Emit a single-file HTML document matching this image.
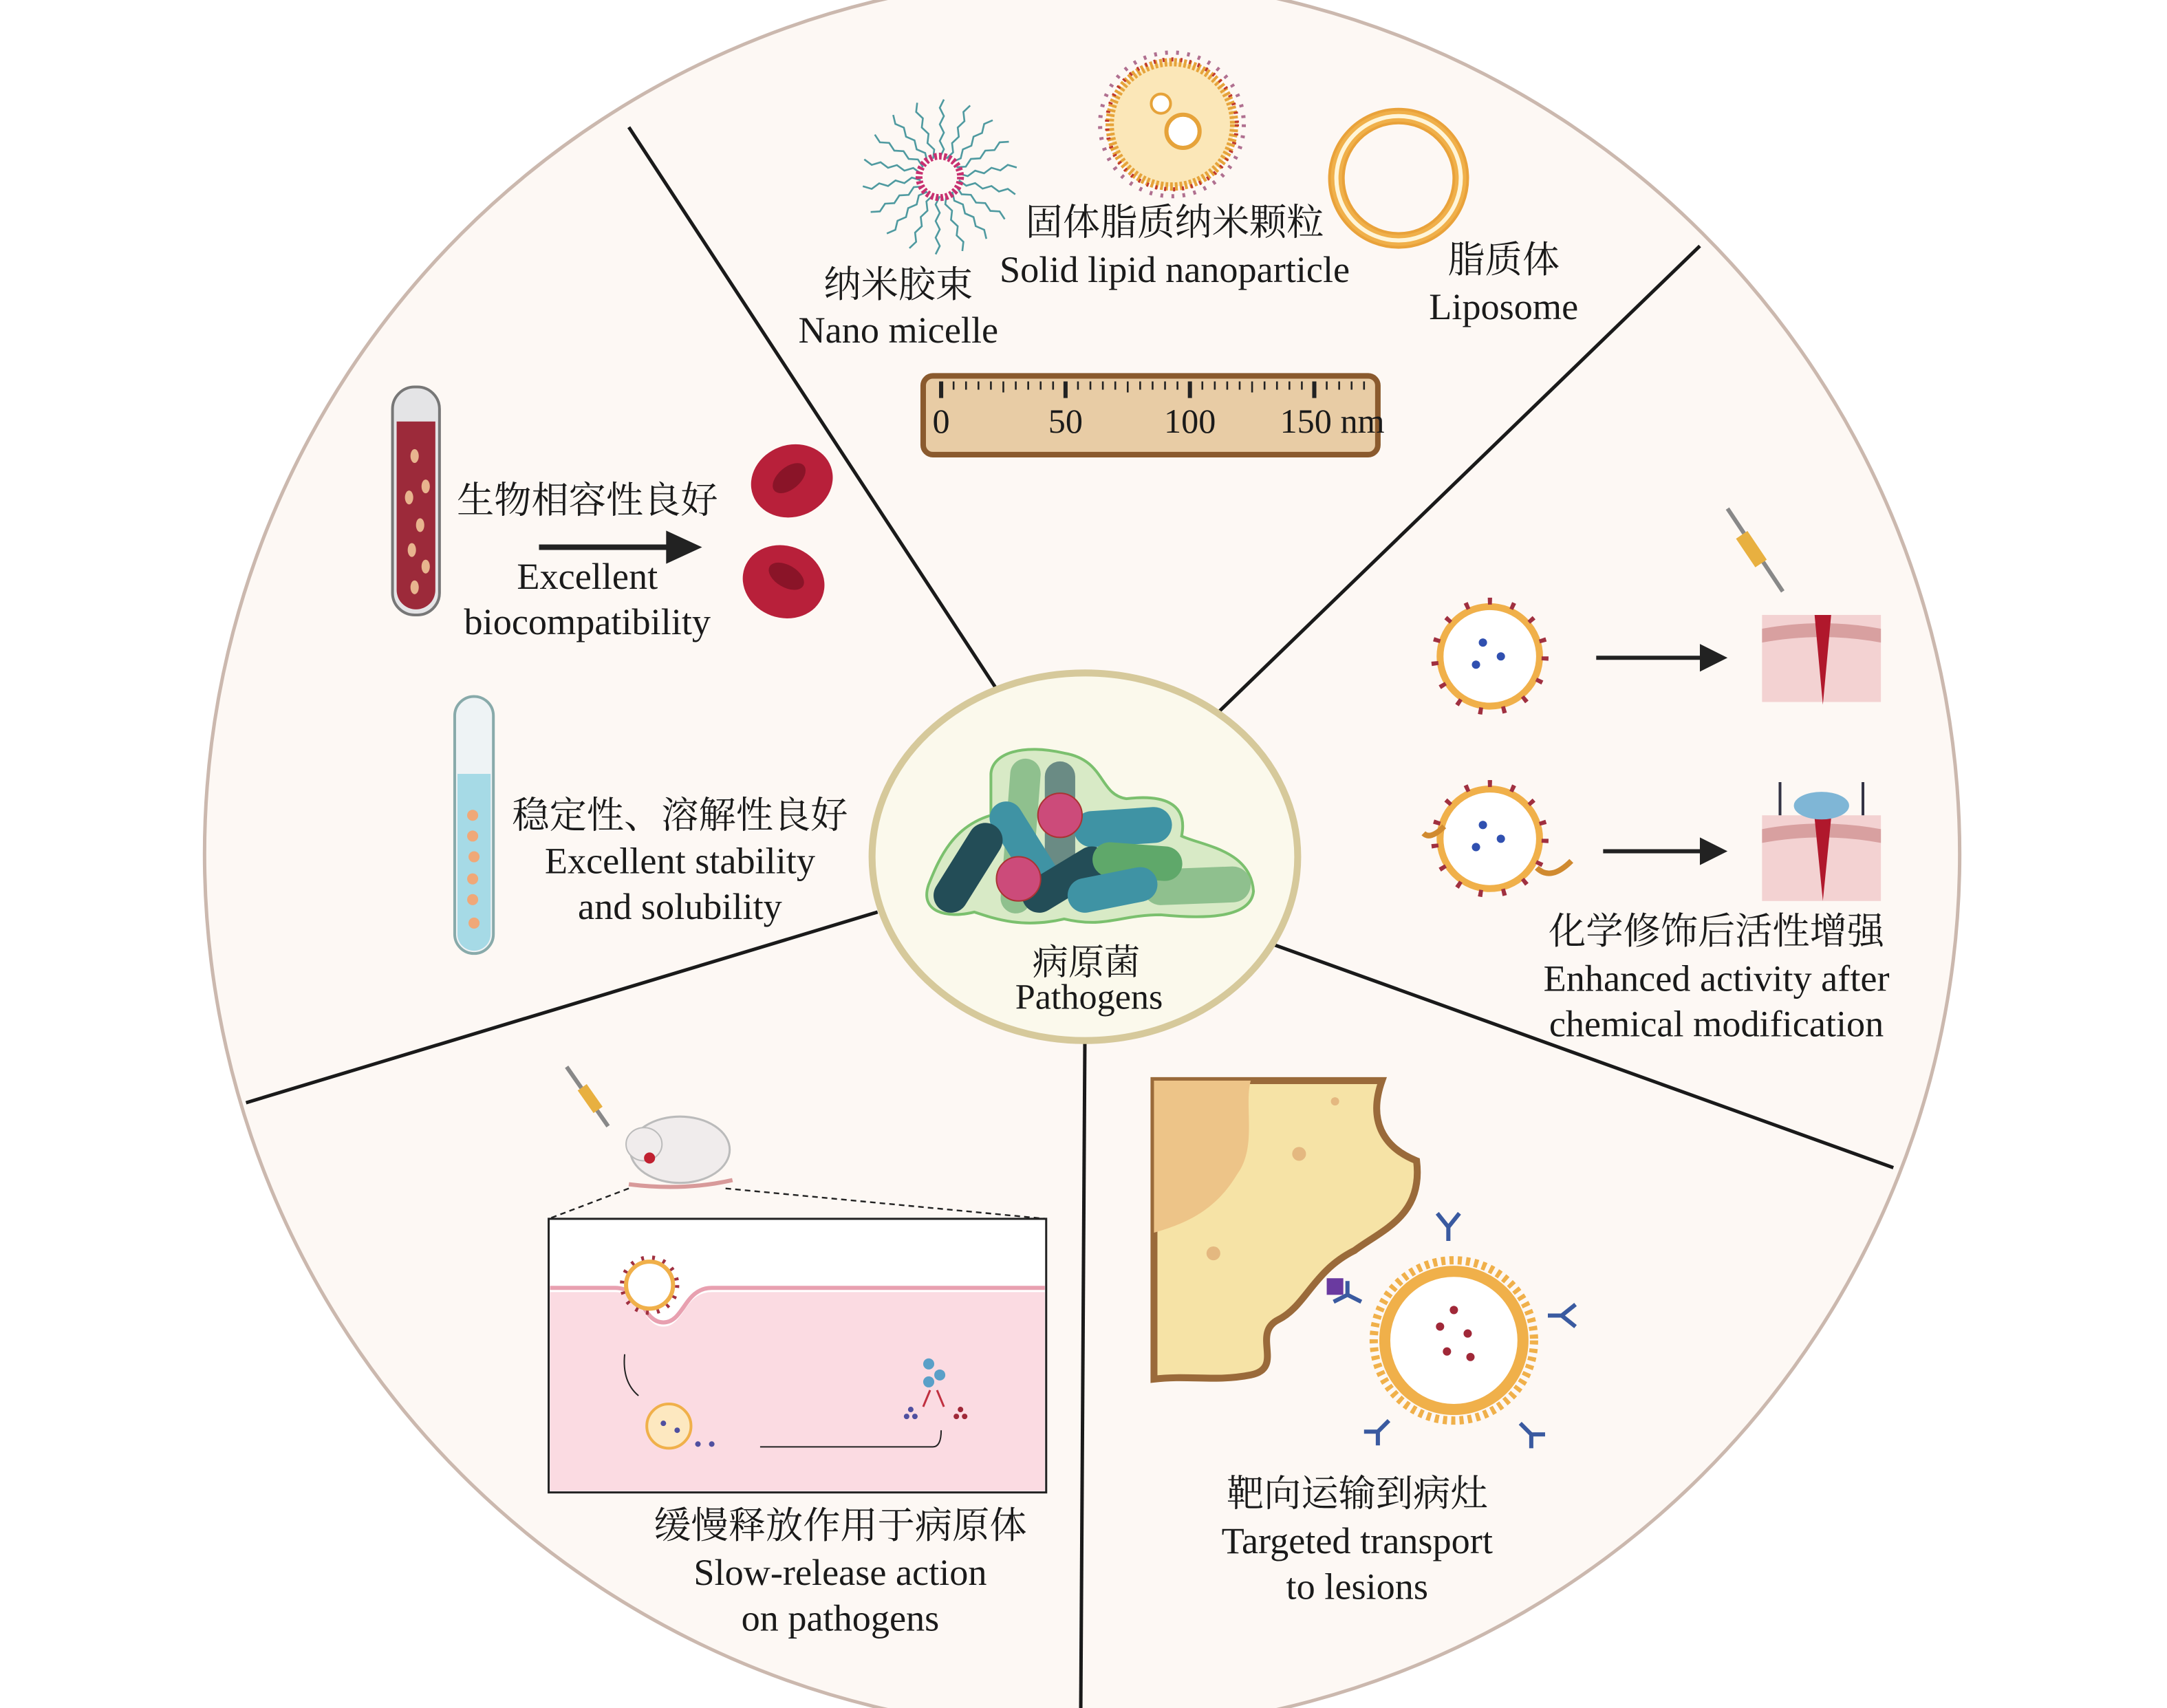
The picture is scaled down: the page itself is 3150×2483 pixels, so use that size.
<!DOCTYPE html>
<html><head><meta charset="utf-8"><style>
html,body{margin:0;padding:0;background:#fff;}
svg{display:block;}
.en{font-family:"Liberation Serif",serif;fill:#1a1a1a;}
.zh{font-family:"Liberation Serif","Noto Serif CJK SC",serif;fill:#1a1a1a;}
</style></head><body>
<svg width="3150" height="2483" viewBox="0 0 1568 1236" xmlns="http://www.w3.org/2000/svg">
<defs>
<clipPath id="cc"><circle cx="783" cy="618" r="635"/></clipPath>
</defs>
<rect width="1568" height="1236" fill="#fff"/>
<circle cx="783" cy="618" r="635" fill="#fdf8f4" stroke="#cbb8ae" stroke-width="2.5"/>
<g clip-path="url(#cc)" stroke="#1a1a1a" stroke-width="2.5">
<line x1="455" y1="92" x2="720" y2="497"/>
<line x1="1230" y1="178" x2="882" y2="515"/>
<line x1="1370" y1="845" x2="920" y2="683"/>
<line x1="785" y1="752" x2="782" y2="1240"/>
<line x1="635" y1="660" x2="178" y2="798"/>
</g>

<ellipse cx="785" cy="620" rx="154" ry="133" fill="#fbf9ec" stroke="#d6c99b" stroke-width="5"/>
<path d="M717,560 C718,545 740,538 770,545 C800,550 795,575 815,578 C840,575 860,580 855,605 C870,612 905,615 907,645 C905,665 870,665 840,662 C810,662 800,672 770,665 C740,672 720,665 705,660 C685,665 665,660 672,640 C680,620 690,598 717,590 Z" fill="#d8eac6" stroke="#7bc06e" stroke-width="2"/>
<g stroke-linecap="round" fill="none">
<line x1="742" y1="560" x2="735" y2="650" stroke="#8fc08e" stroke-width="22"/>
<line x1="767" y1="562" x2="767" y2="625" stroke="#6a8b84" stroke-width="22"/>
<line x1="840" y1="642" x2="892" y2="640" stroke="#8fc08e" stroke-width="26"/>
<line x1="728" y1="592" x2="758" y2="640" stroke="#3f93a4" stroke-width="24"/>
<line x1="790" y1="600" x2="835" y2="597" stroke="#3f93a4" stroke-width="26"/>
<line x1="713" y1="608" x2="688" y2="648" stroke="#234d57" stroke-width="25"/>
<line x1="752" y1="648" x2="790" y2="625" stroke="#234d57" stroke-width="25"/>
<line x1="803" y1="622" x2="843" y2="625" stroke="#5fa86a" stroke-width="25"/>
<line x1="785" y1="648" x2="825" y2="640" stroke="#3f93a4" stroke-width="25"/>
</g>
<circle cx="767" cy="590" r="16" fill="#cc4b7a" stroke="#a33" stroke-width="1"/>
<circle cx="737" cy="636" r="16" fill="#cc4b7a" stroke="#a33" stroke-width="1"/>
<text x="786" y="705" text-anchor="middle" class="zh" font-size="26">病原菌</text>
<text x="788" y="730" text-anchor="middle" class="en" font-size="26">Pathogens</text>

<g transform="translate(680,128)">
<g stroke="#4f9aa0" stroke-width="1.3" fill="none">
<path d="M0,-14 l3,-6 -3,-6 3,-6 -3,-6 3,-6 -3,-6 3,-6" transform="rotate(0)"/>
<path d="M0,-14 l3,-6 -3,-6 3,-6 -3,-6 3,-6 -3,-6 3,-6" transform="rotate(20)"/>
<path d="M0,-14 l3,-6 -3,-6 3,-6 -3,-6 3,-6 -3,-6 3,-6" transform="rotate(40)"/>
<path d="M0,-14 l3,-6 -3,-6 3,-6 -3,-6 3,-6 -3,-6 3,-6" transform="rotate(60)"/>
<path d="M0,-14 l3,-6 -3,-6 3,-6 -3,-6 3,-6 -3,-6 3,-6" transform="rotate(80)"/>
<path d="M0,-14 l3,-6 -3,-6 3,-6 -3,-6 3,-6 -3,-6 3,-6" transform="rotate(100)"/>
<path d="M0,-14 l3,-6 -3,-6 3,-6 -3,-6 3,-6 -3,-6 3,-6" transform="rotate(120)"/>
<path d="M0,-14 l3,-6 -3,-6 3,-6 -3,-6 3,-6 -3,-6 3,-6" transform="rotate(140)"/>
<path d="M0,-14 l3,-6 -3,-6 3,-6 -3,-6 3,-6 -3,-6 3,-6" transform="rotate(160)"/>
<path d="M0,-14 l3,-6 -3,-6 3,-6 -3,-6 3,-6 -3,-6 3,-6" transform="rotate(180)"/>
<path d="M0,-14 l3,-6 -3,-6 3,-6 -3,-6 3,-6 -3,-6 3,-6" transform="rotate(200)"/>
<path d="M0,-14 l3,-6 -3,-6 3,-6 -3,-6 3,-6 -3,-6 3,-6" transform="rotate(220)"/>
<path d="M0,-14 l3,-6 -3,-6 3,-6 -3,-6 3,-6 -3,-6 3,-6" transform="rotate(240)"/>
<path d="M0,-14 l3,-6 -3,-6 3,-6 -3,-6 3,-6 -3,-6 3,-6" transform="rotate(260)"/>
<path d="M0,-14 l3,-6 -3,-6 3,-6 -3,-6 3,-6 -3,-6 3,-6" transform="rotate(280)"/>
<path d="M0,-14 l3,-6 -3,-6 3,-6 -3,-6 3,-6 -3,-6 3,-6" transform="rotate(300)"/>
<path d="M0,-14 l3,-6 -3,-6 3,-6 -3,-6 3,-6 -3,-6 3,-6" transform="rotate(320)"/>
<path d="M0,-14 l3,-6 -3,-6 3,-6 -3,-6 3,-6 -3,-6 3,-6" transform="rotate(340)"/>
</g>
<circle r="15" fill="none" stroke="#c83070" stroke-width="5" stroke-dasharray="2 1.5"/>
</g>
<g transform="translate(848,90)">
<circle r="45" fill="#fbe7b8" stroke="#e6a33a" stroke-width="6" stroke-dasharray="2 1.5"/>
<circle r="47" fill="none" stroke="#c0392b" stroke-width="3" stroke-dasharray="1.5 5"/>
<circle r="52" fill="none" stroke="#b07090" stroke-width="3" stroke-dasharray="2 6"/>
<circle cx="8" cy="5" r="12" fill="#fff" stroke="#e6a33a" stroke-width="3"/>
<circle cx="-8" cy="-15" r="7" fill="#fff" stroke="#e6a33a" stroke-width="2"/>
</g>
<g transform="translate(1012,129)">
<circle r="45" fill="none" stroke="#f0b04a" stroke-width="10"/>
<circle r="45" fill="none" stroke="#fff5d8" stroke-width="3"/>
<circle r="50" fill="none" stroke="#e9a23a" stroke-width="2"/>
<circle r="40" fill="none" stroke="#e9a23a" stroke-width="2"/>
</g>
<text x="650" y="215" text-anchor="middle" class="zh" font-size="27">纳米胶束</text>
<text x="650" y="248" text-anchor="middle" class="en" font-size="27">Nano micelle</text>
<text x="850" y="170" text-anchor="middle" class="zh" font-size="27">固体脂质纳米颗粒</text>
<text x="850" y="204" text-anchor="middle" class="en" font-size="27">Solid lipid nanoparticle</text>
<text x="1088" y="197" text-anchor="middle" class="zh" font-size="27">脂质体</text>
<text x="1088" y="231" text-anchor="middle" class="en" font-size="27">Liposome</text>
<rect x="668" y="272" width="329" height="57" rx="7" fill="#e8cca5" stroke="#8a5a2e" stroke-width="4"/>
<g stroke="#222" stroke-width="1.3">
<path d="M681,276v10M690,276v6M699,276v6M708,276v6M717,276v6M726,276v8M735,276v6M744,276v6M753,276v6M762,276v6M771,276v10M780,276v6M789,276v6M798,276v6M807,276v6M816,276v8M825,276v6M834,276v6M843,276v6M852,276v6M861,276v10M870,276v6M879,276v6M888,276v6M897,276v6M906,276v8M915,276v6M924,276v6M933,276v6M942,276v6M951,276v10M960,276v6M969,276v6M978,276v6M987,276v6"/>
</g>
<g stroke="#222" stroke-width="3"><path d="M681,276v12M771,276v12M861,276v12M951,276v12"/></g>
<text x="681" y="313" text-anchor="middle" class="en" font-size="25">0</text>
<text x="771" y="313" text-anchor="middle" class="en" font-size="25">50</text>
<text x="861" y="313" text-anchor="middle" class="en" font-size="25">100</text>
<text x="964" y="313" text-anchor="middle" class="en" font-size="25">150 nm</text>

<rect x="284" y="280" width="34" height="165" rx="16" fill="#e4e4e6" stroke="#777" stroke-width="2"/>
<path d="M287,305 h28 v122 a14,14 0 0 1 -28,0 Z" fill="#9c2a3a"/>
<g fill="#e8b48e"><ellipse cx="300" cy="330" rx="3" ry="5"/><ellipse cx="308" cy="352" rx="3" ry="5"/><ellipse cx="296" cy="360" rx="3" ry="5"/><ellipse cx="304" cy="380" rx="3" ry="5"/><ellipse cx="298" cy="398" rx="3" ry="5"/><ellipse cx="308" cy="410" rx="3" ry="5"/><ellipse cx="300" cy="425" rx="3" ry="5"/></g>
<text x="425" y="371" text-anchor="middle" class="zh" font-size="27">生物相容性良好</text>
<line x1="390" y1="396" x2="485" y2="396" stroke="#222" stroke-width="4"/>
<polygon points="482,384 508,396 482,408" fill="#222"/>
<text x="425" y="426" text-anchor="middle" class="en" font-size="27">Excellent</text>
<text x="425" y="459" text-anchor="middle" class="en" font-size="27">biocompatibility</text>
<g>
<ellipse cx="573" cy="348" rx="30" ry="26" fill="#b8203a" transform="rotate(-20 573 348)"/>
<ellipse cx="571" cy="346" rx="14" ry="8" fill="#8a1428" transform="rotate(-40 571 346)"/>
<ellipse cx="567" cy="421" rx="30" ry="26" fill="#b8203a" transform="rotate(20 567 421)"/>
<ellipse cx="569" cy="417" rx="14" ry="8" fill="#8a1428" transform="rotate(30 569 417)"/>
</g>
<rect x="329" y="504" width="28" height="186" rx="14" fill="#eef3f5" stroke="#8aa" stroke-width="2"/>
<path d="M331,560 h24 v116 a12,12 0 0 1 -24,0 Z" fill="#a6dae6"/>
<g fill="#f0a878"><circle cx="342" cy="590" r="4"/><circle cx="342" cy="605" r="4"/><circle cx="343" cy="620" r="4"/><circle cx="342" cy="636" r="4"/><circle cx="342" cy="651" r="4"/><circle cx="343" cy="668" r="4"/></g>
<text x="492" y="599" text-anchor="middle" class="zh" font-size="27">稳定性、溶解性良好</text>
<text x="492" y="632" text-anchor="middle" class="en" font-size="27">Excellent stability</text>
<text x="492" y="665" text-anchor="middle" class="en" font-size="27">and solubility</text>

<g stroke="#888" stroke-width="3"><line x1="1250" y1="368" x2="1290" y2="428"/></g>
<rect x="1262" y="385" width="10" height="25" fill="#e8b040" transform="rotate(-34 1267 397)"/>
<g transform="translate(1078,475)">
<circle r="36" fill="#fff" stroke="#f0b04a" stroke-width="5"/>
<circle r="40" fill="none" stroke="#a03040" stroke-width="5" stroke-dasharray="3 14"/>
<g fill="#3050b0"><circle cx="-5" cy="-10" r="3"/><circle cx="8" cy="0" r="3"/><circle cx="-10" cy="6" r="3"/></g>
</g>
<line x1="1155" y1="476" x2="1232" y2="476" stroke="#222" stroke-width="3"/>
<polygon points="1230,466 1250,476 1230,486" fill="#222"/>
<rect x="1275" y="445" width="86" height="63" fill="#f3d2d2"/>
<path d="M1275,455 q43,-8 86,0 v10 q-43,-8 -86,0 Z" fill="#d8a0a0"/>
<path d="M1313,445 l6,65 l6,-65 Z" fill="#b0182c"/>
<g transform="translate(1078,607)">
<circle r="36" fill="#fff" stroke="#f0b04a" stroke-width="5"/>
<circle r="40" fill="none" stroke="#a03040" stroke-width="5" stroke-dasharray="3 14"/>
<g fill="#3050b0"><circle cx="-5" cy="-10" r="3"/><circle cx="8" cy="0" r="3"/><circle cx="-10" cy="6" r="3"/></g>
</g>
<path d="M1112,628 q10,10 25,-5" fill="none" stroke="#d08a30" stroke-width="4"/>
<path d="M1045,598 q-10,10 -15,5" fill="none" stroke="#d08a30" stroke-width="4"/>
<line x1="1160" y1="616" x2="1232" y2="616" stroke="#222" stroke-width="3"/>
<polygon points="1230,606 1250,616 1230,626" fill="#222"/>
<rect x="1275" y="590" width="86" height="62" fill="#f3d2d2"/>
<path d="M1275,600 q43,-8 86,0 v10 q-43,-8 -86,0 Z" fill="#d8a0a0"/>
<path d="M1313,592 l6,60 l6,-60 Z" fill="#b0182c"/>
<ellipse cx="1318" cy="583" rx="20" ry="10" fill="#7fb6d6"/>
<g stroke="#334" stroke-width="2"><line x1="1288" y1="566" x2="1288" y2="590"/><line x1="1348" y1="566" x2="1348" y2="590"/></g>
<text x="1242" y="683" text-anchor="middle" class="zh" font-size="27">化学修饰后活性增强</text>
<text x="1242" y="717" text-anchor="middle" class="en" font-size="27">Enhanced activity after</text>
<text x="1242" y="750" text-anchor="middle" class="en" font-size="27">chemical modification</text>

<path d="M835,782 H1000 C990,810 1000,830 1025,840 C1030,880 1000,890 980,905 C950,920 945,945 925,955 C905,965 930,990 905,995 C880,1000 860,995 835,998 Z" fill="#f6e3a6" stroke="#9a6a3a" stroke-width="5"/>
<path d="M835,782 H905 C900,800 910,830 895,850 C880,875 860,885 835,892 Z" fill="#edc488"/>
<g fill="#e4b880"><circle cx="940" cy="835" r="5"/><circle cx="878" cy="907" r="5"/><circle cx="966" cy="797" r="3"/></g>
<rect x="960" y="925" width="12" height="12" fill="#6a3aa0"/>
<g transform="translate(1052,970)">
<circle r="50" fill="#fff" stroke="#f0b04a" stroke-width="8"/>
<circle r="58" fill="none" stroke="#f0b04a" stroke-width="6" stroke-dasharray="3 3"/>
<g fill="#a02838"><circle cx="-10" cy="-10" r="3"/><circle cx="10" cy="-5" r="3"/><circle cx="-5" cy="8" r="3"/><circle cx="12" cy="12" r="3"/><circle cx="0" cy="-22" r="3"/></g>
</g>
<g stroke="#3a5aa0" stroke-width="3" fill="none">
<path d="M1048,898 v-10 l-8,-10 M1048,888 l8,-10"/>
<path d="M1120,952 h10 l10,-8 M1130,952 l10,8"/>
<path d="M1100,1030 l8,8 v10 M1108,1038 l10,0"/>
<path d="M1005,1028 l-8,8 v10 M997,1036 l-10,0"/>
<path d="M985,942 l-10,-5 l-10,5 M975,937 v-10"/>
</g>
<text x="982" y="1090" text-anchor="middle" class="zh" font-size="27">靶向运输到病灶</text>
<text x="982" y="1124" text-anchor="middle" class="en" font-size="27">Targeted transport</text>
<text x="982" y="1157" text-anchor="middle" class="en" font-size="27">to lesions</text>

<line x1="410" y1="772" x2="440" y2="815" stroke="#888" stroke-width="3"/>
<rect x="423" y="785" width="8" height="20" fill="#e8b040" transform="rotate(-35 427 795)"/>
<ellipse cx="492" cy="832" rx="36" ry="24" fill="#f0ecec" stroke="#bbb" stroke-width="1.5"/>
<ellipse cx="466" cy="828" rx="13" ry="12" fill="#f0ecec" stroke="#bbb"/>
<path d="M455,857 q40,5 75,-3" fill="none" stroke="#d89a9a" stroke-width="3"/>
<circle cx="470" cy="838" r="4" fill="#c02030"/>
<g stroke="#222" stroke-width="1.2" stroke-dasharray="4 3"><line x1="455" y1="860" x2="397" y2="882"/><line x1="525" y1="860" x2="757" y2="882"/></g>
<rect x="397" y="882" width="360" height="198" fill="#fff" stroke="#222" stroke-width="1.5"/>
<path d="M398,935 H445 C465,935 465,960 480,960 C495,960 495,935 515,935 H756 V1079 H398 Z" fill="#fbdbe2"/>
<path d="M398,932 H445 C465,932 465,957 480,957 C495,957 495,932 515,932 H756" fill="none" stroke="#e8a0b0" stroke-width="3"/>
<circle cx="470" cy="930" r="17" fill="#fff" stroke="#f0b04a" stroke-width="3"/>
<circle cx="470" cy="930" r="20" fill="none" stroke="#a03040" stroke-width="3" stroke-dasharray="2 6"/>
<circle cx="484" cy="1032" r="16" fill="#fde8c0" stroke="#f0b04a" stroke-width="2"/>
<g fill="#5050a0"><circle cx="480" cy="1030" r="2"/><circle cx="490" cy="1035" r="2"/><circle cx="505" cy="1045" r="2"/><circle cx="515" cy="1045" r="2"/></g>
<path d="M452,980 q-2,20 10,30" fill="none" stroke="#222" stroke-width="1"/>
<path d="M550,1047 H675 q6,0 6,-12" fill="none" stroke="#222" stroke-width="1"/>
<g fill="#5aa0c8"><circle cx="672" cy="987" r="4"/><circle cx="680" cy="995" r="4"/><circle cx="672" cy="1000" r="4"/></g>
<g stroke="#c03040" stroke-width="1.5"><path d="M668,1018 l5,-12 M683,1018 l-5,-12"/></g>
<g fill="#a02838"><circle cx="692" cy="1025" r="2"/><circle cx="698" cy="1025" r="2"/><circle cx="695" cy="1020" r="2"/></g>
<g fill="#5050a0"><circle cx="656" cy="1025" r="2"/><circle cx="662" cy="1025" r="2"/><circle cx="659" cy="1020" r="2"/></g>
<text x="608" y="1113" text-anchor="middle" class="zh" font-size="27">缓慢释放作用于病原体</text>
<text x="608" y="1147" text-anchor="middle" class="en" font-size="27">Slow-release action</text>
<text x="608" y="1180" text-anchor="middle" class="en" font-size="27">on pathogens</text>
</svg>
</body></html>
